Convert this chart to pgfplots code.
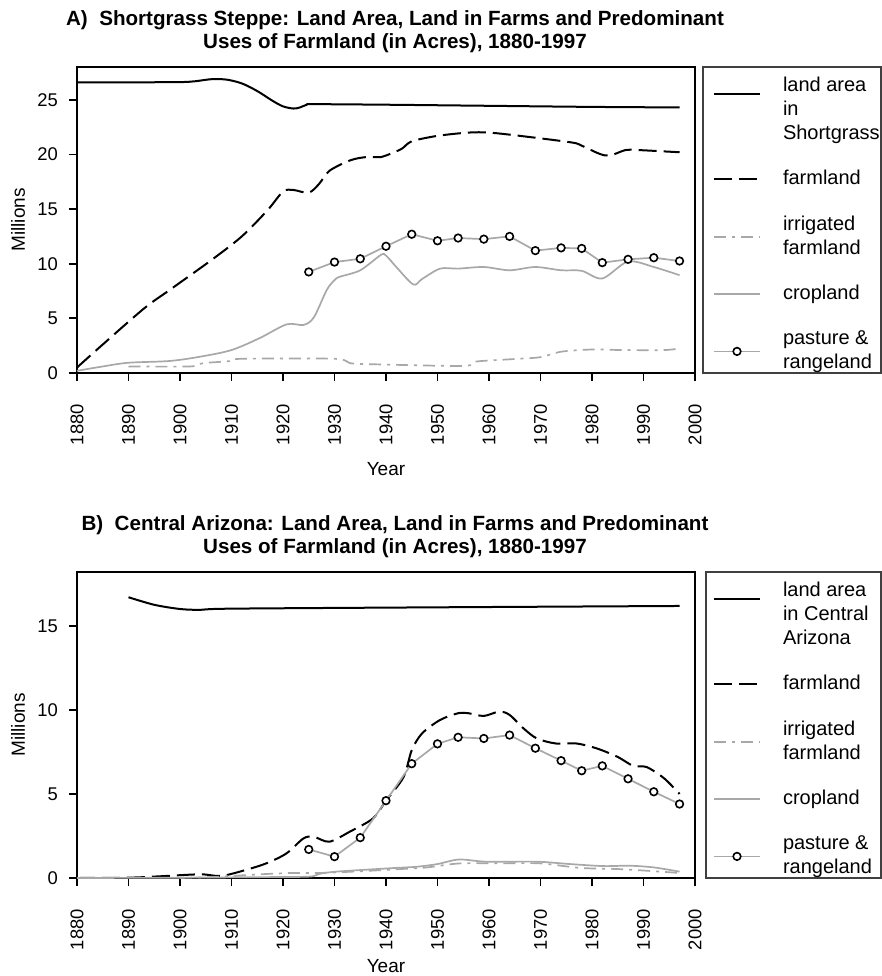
\documentclass[border=0pt]{standalone}
\usepackage{fontspec}
\setmainfont{Liberation Sans}
\usepackage{pgfplots}
\pgfplotsset{compat=1.18}

\definecolor{lgray}{RGB}{168,168,168}

% shared look of both panels (1 px of the reference = 0.5pt)
\pgfplotsset{
  landuse/.style={
    width=309pt, height=153pt, scale only axis,
    xmin=1880, xmax=2000, ymin=0,
    xtick={1880,1890,...,2000},
    tick pos=left, tick align=outside,
    major tick length=4pt,
    axis line style={line width=1pt},
    every tick/.style={black, line width=0.9pt},
    /pgf/number format/assume math mode=true,
    /pgf/number format/set thousands separator={},
    ticklabel style={font=\fontsize{9.2}{10}\selectfont},
    xticklabel style={rotate=90, anchor=east},
    xticklabel shift=8pt,
    yticklabel shift=2pt,
    every axis x label/.style={at={(axis description cs:0.5,0)}, anchor=center, yshift=-44pt, font=\fontsize{9.5}{10}\selectfont},
    every axis y label/.style={at={(axis description cs:-0.0955,0.5)}, anchor=center, rotate=90, font=\fontsize{9.5}{10}\selectfont},
    xlabel={Year}, ylabel={Millions},
    title style={at={(axis description cs:0.5,1)}, anchor=south, yshift=-2.5pt, xshift=4.5pt, align=center, font=\bfseries\fontsize{10.3}{11.5}\selectfont},
    legend cell align=left,
    legend style={draw=none, fill=none, inner sep=0pt, outer sep=0pt,
      at={(axis description cs:1,1)}, anchor=north west, xshift=9pt, yshift=-5pt,
      row sep=14pt, column sep=11pt,
      font=\fontsize{10}{12}\selectfont,
      nodes={inner sep=0pt, align=left}},
    legend image code/.code={\draw[mark repeat=2,mark phase=2,#1] plot coordinates {(0pt,0pt) (11.5pt,0pt) (23pt,0pt)};},
  },
  % first legend row: sample sits near the first of three text lines
  land/.style={black, line width=1pt, smooth,
    legend image code/.code={\path (0pt,-8pt); \draw[##1] (0pt,8pt) -- (23pt,8pt);}},
  farm/.style={black, line width=1pt, dash pattern=on 9pt off 3.5pt, smooth},
  irrig/.style={lgray, line width=0.85pt, dash pattern=on 6pt off 3pt on 1.5pt off 3pt, smooth},
  crop/.style={lgray, line width=0.85pt, smooth},
  past/.style={lgray, line width=0.85pt, mark=*, mark size=1.9pt, mark options={draw=black, fill=white, line width=0.8pt, solid}},
}

\begin{document}
\begin{tikzpicture}
\path[use as bounding box] (-38.5pt,-301.5pt) rectangle (402.5pt,186.5pt);

% ---------------- A) Shortgrass Steppe ----------------
\begin{axis}[landuse, name=top, at={(0,0)}, anchor=south west,
  ymax=28, ytick={0,5,...,25}, xlabel style={yshift=-4pt},
  title={A)\ \ Shortgrass Steppe: Land Area, Land in Farms and Predominant\\Uses of Farmland (in Acres), 1880-1997}]
\addplot[land] coordinates {
  (1880,26.6) (1890,26.6) (1900,26.62) (1903,26.7) (1906,26.88) (1909,26.85)
  (1912,26.5) (1915,25.8) (1918,24.9) (1920,24.4) (1922,24.2) (1923.3,24.3)
  (1924.6,24.55) (1926,24.6) (1940,24.55) (1960,24.45) (1980,24.35) (1997,24.3)
};
\addlegendentry{land area\\in\\Shortgrass}
\addplot[farm] coordinates {
  (1880,0.5) (1884.5,2.4) (1893,5.9) (1898,7.6) (1906,10.3) (1912,12.5)
  (1917,14.9) (1920,16.6) (1922,16.75) (1925,16.5) (1927,17.3) (1929,18.5)
  (1933,19.45) (1936,19.75) (1939,19.75) (1940,19.9) (1943,20.5) (1945,21.2)
  (1950,21.7) (1956,22.0) (1960,22.0) (1966,21.7) (1976,21.1) (1978,20.8)
  (1981.5,20.05) (1983.5,19.9) (1986.5,20.4) (1989,20.4) (1997,20.2)
};
\addlegendentry{farmland}
\addplot[irrig] coordinates {
  (1890,0.6) (1902,0.6) (1904.5,0.9) (1910,1.1) (1912,1.3) (1930,1.3)
  (1933,0.9) (1937.5,0.8) (1955,0.65) (1957.5,1.05) (1965,1.28) (1970,1.45)
  (1974,1.95) (1980,2.15) (1986,2.1) (1994,2.1) (1997,2.25)
};
\addlegendentry{irrigated\\farmland}
\addplot[crop] coordinates {
  (1880,0.2) (1885,0.6) (1890,0.94) (1898,1.1) (1904,1.5) (1910,2.1)
  (1915.5,3.2) (1920.7,4.45) (1924,4.4) (1926,5.1) (1928.5,7.6) (1930,8.5)
  (1931,8.8) (1935,9.4) (1939,10.8) (1940,10.75) (1942,9.7) (1945.3,8.1)
  (1947,8.6) (1950.5,9.55) (1954,9.55) (1959,9.7) (1964,9.4) (1969,9.7)
  (1974,9.4) (1978,9.35) (1982,8.65) (1987,10.2) (1992,9.7) (1997,8.95)
};
\addlegendentry{cropland}
\addplot[past] coordinates {
  (1925,9.25) (1930,10.15) (1935,10.45) (1940,11.6) (1945,12.7) (1950,12.1)
  (1954,12.35) (1959,12.25) (1964,12.5) (1969,11.2) (1974,11.45) (1978,11.4)
  (1982,10.1) (1987,10.4) (1992,10.55) (1997,10.25)
};
\addlegendentry{pasture \&\\rangeland}
\end{axis}
\draw[line width=0.6pt, black!75] (313pt,0pt) rectangle (402pt,153pt);

% ---------------- B) Central Arizona ----------------
\begin{axis}[landuse, name=bot, at={(0,-252.5pt)}, anchor=south west,
  ymax=18.2, ytick={0,5,...,15},
  title={B)\ \ Central Arizona: Land Area, Land in Farms and Predominant\\Uses of Farmland (in Acres), 1880-1997}]
\addplot[land] coordinates {
  (1890,16.7) (1895,16.25) (1900,16.0) (1904,15.95) (1910,16.02) (1950,16.1) (1997,16.18)
};
\addlegendentry{land area\\in Central\\Arizona}
\addplot[farm] coordinates {
  (1880,0) (1890,0.02) (1896,0.1) (1904,0.22) (1908,0.12) (1913,0.5)
  (1917,0.9) (1920.7,1.47) (1924,2.36) (1926,2.45) (1929,2.16) (1933,2.76)
  (1937.5,3.55) (1940,4.6) (1943.4,6.0) (1945,7.6) (1947,8.6) (1950.5,9.4)
  (1954,9.8) (1956,9.8) (1959,9.64) (1962,9.9) (1964,9.7) (1966.7,8.9)
  (1969.3,8.3) (1973,8.0) (1977,8.0) (1981,7.7) (1985,7.2) (1988,6.67)
  (1990.6,6.6) (1994,5.93) (1997,5.0)
};
\addlegendentry{farmland}
\addplot[irrig] coordinates {
  (1900,0.02) (1906,0.05) (1915.5,0.22) (1922,0.3) (1927,0.3) (1933.6,0.38)
  (1943.3,0.54) (1948,0.63) (1954.4,0.87) (1962.8,0.87) (1970,0.87)
  (1977.7,0.6) (1986,0.52) (1997,0.3)
};
\addlegendentry{irrigated\\farmland}
\addplot[crop] coordinates {
  (1880,0) (1900,0.02) (1915,0.05) (1925,0.08) (1927,0.24) (1930.4,0.38)
  (1940.8,0.58) (1946,0.67) (1950,0.83) (1954.2,1.1) (1959.5,0.97)
  (1969.3,0.97) (1975.7,0.83) (1982.2,0.71) (1987.4,0.73) (1992,0.63) (1997,0.38)
};
\addlegendentry{cropland}
\addplot[past] coordinates {
  (1925,1.7) (1930,1.27) (1935,2.4) (1940,4.6) (1945,6.8) (1950,7.98)
  (1954,8.37) (1959,8.3) (1964,8.5) (1969,7.72) (1974,6.98) (1978,6.38)
  (1982,6.67) (1987,5.9) (1992,5.13) (1997,4.4)
};
\addlegendentry{pasture \&\\rangeland}
\end{axis}
\draw[line width=0.6pt, black!75] (314.5pt,-252.5pt) rectangle (402pt,-99.5pt);
\end{tikzpicture}
\end{document}
